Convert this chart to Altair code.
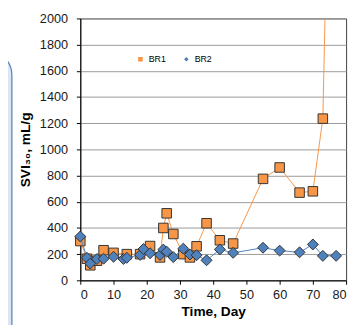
import altair as alt
import pandas as pd

# BR1 (orange squares)
br1_days = [0, 2, 3, 5, 7, 10, 14, 18, 21, 24, 25, 26, 28, 31, 33, 35, 38, 42, 46, 55, 60, 66, 70, 73, 77]
br1_svi = [300, 165, 115, 150, 230, 210, 200, 200, 262, 175, 400, 512, 354, 200, 175, 260, 436, 306, 281, 775, 862, 670, 680, 1235, 5900]

# BR2 (blue diamonds)
br2_days = [0, 2, 3, 5, 7, 10, 13, 14, 18, 19, 21, 24, 25, 26, 28, 31, 33, 35, 38, 42, 46, 55, 60, 66, 70, 73, 77]
br2_svi = [335, 172, 128, 163, 165, 180, 163, 172, 194, 239, 207, 194, 235, 219, 177, 242, 197, 192, 153, 236, 210, 249, 227, 214, 274, 187, 187]

series_names = ["BR1", "BR2"]
series_colors = ["#F79646", "#4F81BD"]
series_shapes = ["square", "diamond"]
x_ticks = list(range(0, 81, 10))
y_ticks = list(range(0, 2001, 200))

df = pd.concat([
    pd.DataFrame({"day": br1_days, "svi": br1_svi, "series": "BR1"}),
    pd.DataFrame({"day": br2_days, "svi": br2_svi, "series": "BR2"}),
], ignore_index=True)

x = alt.X("day:Q", scale=alt.Scale(domain=[0, 80], nice=False),
          axis=alt.Axis(values=x_ticks, title="Time, Day", grid=False, format="d",
                        labelPadding=5, titlePadding=3))
y = alt.Y("svi:Q", scale=alt.Scale(domain=[0, 2000], nice=False),
          axis=alt.Axis(values=y_ticks, title="SVI₃₀, mL/g", grid=True, format="d",
                        gridColor="#9a9a9a", gridWidth=1,
                        labelPadding=9, titlePadding=7))

legend = alt.Legend(title=None, orient="none", legendX=57, legendY=37,
                    direction="horizontal", labelFontSize=9, labelFont="Liberation Sans",
                    symbolSize=22, symbolStrokeColor="#333333", symbolStrokeWidth=0.8,
                    labelOffset=4, columnPadding=16)
fill = alt.Fill("series:N", scale=alt.Scale(domain=series_names, range=series_colors), legend=legend)
shape = alt.Shape("series:N", scale=alt.Scale(domain=series_names, range=series_shapes), legend=legend)

base = alt.Chart(df)

panel = alt.Chart(pd.DataFrame({"k": [0]})).mark_rect(
    fill="#DCE6F2", stroke="#4A7EBB", strokeWidth=1.2, cornerRadius=25, clip=False
).encode(x=alt.value(-122), x2=alt.value(-70), y=alt.value(33), y2=alt.value(340))

line1 = base.transform_filter(alt.datum.series == "BR1").mark_line(
    color="#F79646", strokeWidth=1, clip=True).encode(x=x, y=y)
pts1 = base.transform_filter(
    (alt.datum.series == "BR1") & (alt.datum.svi <= 2000)
).mark_point(
    filled=True, stroke="#333333", strokeWidth=1, opacity=1, size=95
).encode(x=x, y=y, fill=fill, shape=shape)
line2 = base.transform_filter(alt.datum.series == "BR2").mark_line(
    color="#4F81BD", strokeWidth=1, clip=True).encode(x=x, y=y)
pts2 = base.transform_filter(alt.datum.series == "BR2").mark_point(
    filled=True, stroke="#333333", strokeWidth=1, opacity=1, size=125
).encode(x=x, y=y, fill=fill, shape=shape)

chart = alt.layer(panel, line1, pts1, line2, pts2).properties(
    width=272, height=268,
    autosize=alt.AutoSizeParams(type="none"),
    padding={"left": 74, "top": 7, "right": 4, "bottom": 42},
    background="white",
).configure_axis(
    labelFont="Liberation Sans", labelFontSize=13, labelColor="#1a1a1a",
    titleFont="Liberation Sans", titleFontSize=14, titleFontWeight="bold", titleColor="#000000",
    domainColor="#000000", tickColor="#000000", tickSize=4,
).configure_view(stroke="#404040", strokeWidth=1)

chart.save("out.html", embed_options={"renderer": "svg", "actions": False})
